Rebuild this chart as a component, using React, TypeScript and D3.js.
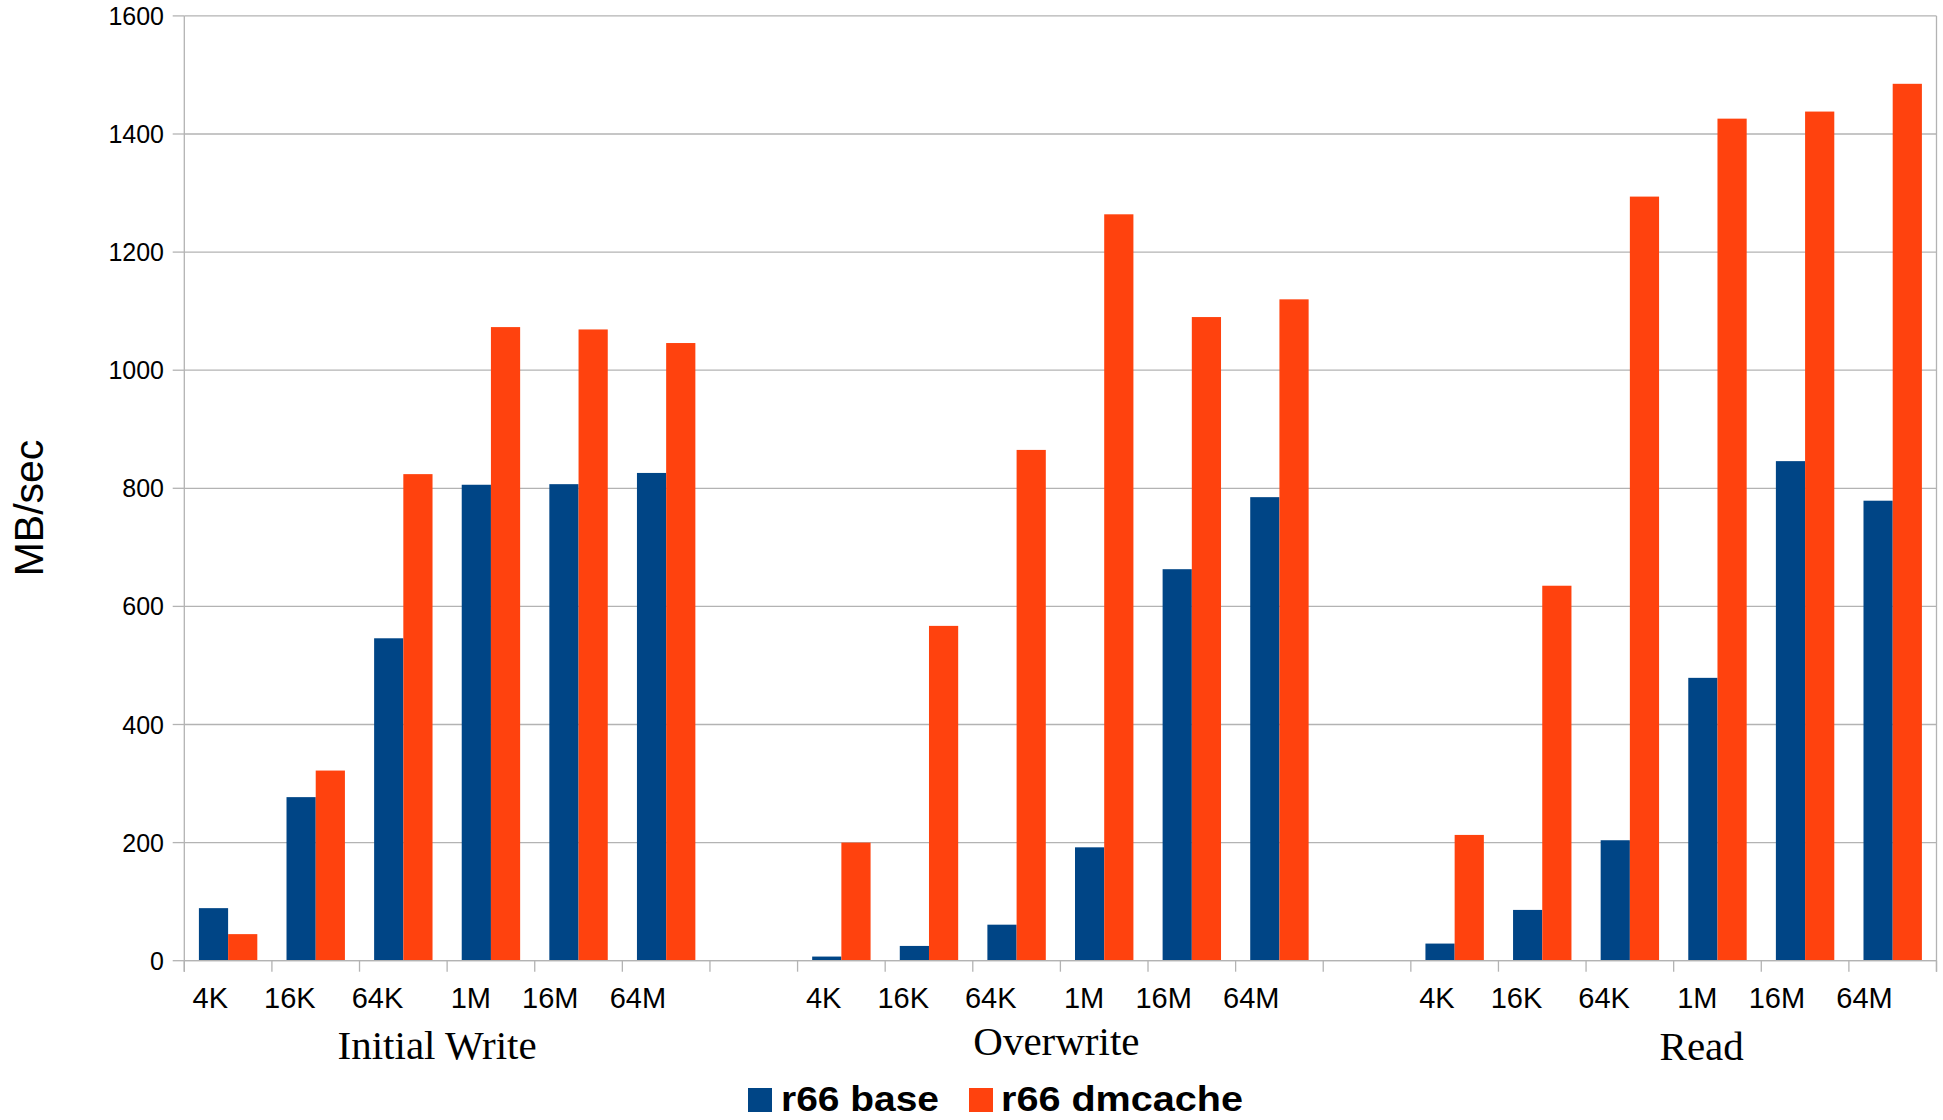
import React from "react";
import * as d3 from "d3";

// Block / request sizes shown inside each operation group
const sizes = ["4K", "16K", "64K", "1M", "16M", "64M"];
const operations = ["Initial Write", "Overwrite", "Read"];
const seriesNames = ["r66 base", "r66 dmcache"];
const yTicks = [0, 200, 400, 600, 800, 1000, 1200, 1400, 1600];

// Throughput in MB/sec, per operation, for each series
const baseInitialWrite = [89, 277, 546, 806, 807, 826];
const baseOverwrite = [7, 25, 61, 192, 663, 785];
const baseRead = [29, 86, 204, 479, 846, 779];
const dmcacheInitialWrite = [45, 322, 824, 1073, 1069, 1046];
const dmcacheOverwrite = [200, 567, 865, 1264, 1090, 1120];
const dmcacheRead = [213, 635, 1294, 1426, 1438, 1485];

const baseSeries = [baseInitialWrite, baseOverwrite, baseRead];
const dmcacheSeries = [dmcacheInitialWrite, dmcacheOverwrite, dmcacheRead];

const COLORS = ["#004586", "#ff420e"];
const GRID = "#b3b3b3";
const SANS = "'Liberation Sans', Arial, sans-serif";
const SERIF = "'Liberation Serif', 'Times New Roman', serif";

// Layout
const W = 1943;
const H = 1120;
const PLOT_LEFT = 184.3;
const PLOT_RIGHT = 1936.5;
const PLOT_TOP = 15.9;
const PLOT_BOTTOM = 960.7;
const SLOTS_PER_GROUP = sizes.length + 1; // one empty slot separates the groups
const SLOT_COUNT = operations.length * SLOTS_PER_GROUP - 1;

// Fine placement of the operation captions under each group
const groupCaptionShift = [
  { dx: -10, y: 1058.5 },
  { dx: -4, y: 1055 },
  { dx: 28, y: 1059.5 },
];

export default function App() {
  const x = d3
    .scaleBand<number>()
    .domain(d3.range(SLOT_COUNT))
    .range([PLOT_LEFT, PLOT_RIGHT])
    .padding(0);
  const bw = x.bandwidth();

  const sub = d3
    .scaleBand<number>()
    .domain([0, 1])
    .range([0, bw])
    .paddingInner(0)
    .paddingOuter(0.5);

  const y = d3.scaleLinear().domain([0, 1600]).range([PLOT_BOTTOM, PLOT_TOP]);

  const bars: { key: string; x: number; y: number; w: number; h: number; fill: string }[] = [];
  operations.forEach((_, g) => {
    sizes.forEach((_, c) => {
      const slot = g * SLOTS_PER_GROUP + c;
      [baseSeries, dmcacheSeries].forEach((series, s) => {
        const v = series[g][c];
        bars.push({
          key: `${g}-${c}-${s}`,
          x: (x(slot) as number) + (sub(s) as number),
          y: y(v),
          w: sub.bandwidth(),
          h: y(0) - y(v),
          fill: COLORS[s],
        });
      });
    });
  });

  const boundaries = d3.range(SLOT_COUNT + 1).map((i) => PLOT_LEFT + i * bw);

  return (
    <svg
      width={W}
      height={H}
      viewBox={`0 0 ${W} ${H}`}
      style={{ position: "absolute", left: 0, top: 0, display: "block", background: "#fff" }}
    >
      <rect x={0} y={0} width={W} height={H} fill="#fff" />

      {/* horizontal grid and y ticks */}
      {yTicks.map((t) => (
        <g key={`g${t}`}>
          <line x1={PLOT_LEFT} x2={PLOT_RIGHT} y1={y(t)} y2={y(t)} stroke={GRID} strokeWidth={1.3} />
          <line x1={PLOT_LEFT - 11.6} x2={PLOT_LEFT} y1={y(t)} y2={y(t)} stroke={GRID} strokeWidth={1.3} />
          <text
            x={164}
            y={y(t)}
            dy="0.36em"
            textAnchor="end"
            fontFamily={SANS}
            fontSize={25}
            fill="#000"
          >
            {t}
          </text>
        </g>
      ))}

      {/* plot frame: left axis and right edge */}
      <line x1={PLOT_LEFT} x2={PLOT_LEFT} y1={PLOT_TOP} y2={PLOT_BOTTOM + 11} stroke={GRID} strokeWidth={1.3} />
      <line x1={PLOT_RIGHT} x2={PLOT_RIGHT} y1={PLOT_TOP} y2={PLOT_BOTTOM + 11} stroke={GRID} strokeWidth={1.3} />

      {/* bars */}
      {bars.map((b) => (
        <rect key={b.key} x={b.x} y={b.y} width={b.w} height={b.h} fill={b.fill} />
      ))}

      {/* x axis line and category ticks */}
      <line x1={PLOT_LEFT} x2={PLOT_RIGHT} y1={y(0)} y2={y(0)} stroke={GRID} strokeWidth={1.3} />
      {boundaries.map((bx, i) => (
        <line key={`xt${i}`} x1={bx} x2={bx} y1={y(0)} y2={y(0) + 11} stroke={GRID} strokeWidth={1.3} />
      ))}

      {/* size labels */}
      {operations.map((_, g) =>
        sizes.map((s, c) => {
          const slot = g * SLOTS_PER_GROUP + c;
          return (
            <text
              key={`xl${g}-${c}`}
              x={(x(slot) as number) + bw / 2}
              y={1008}
              textAnchor="end"
              fontFamily={SANS}
              fontSize={29}
              fill="#000"
            >
              {s}
            </text>
          );
        })
      )}

      {/* operation captions */}
      {operations.map((op, g) => {
        const first = x(g * SLOTS_PER_GROUP) as number;
        const last = (x(g * SLOTS_PER_GROUP + sizes.length - 1) as number) + bw;
        return (
          <text
            key={`op${g}`}
            x={(first + last) / 2 + groupCaptionShift[g].dx}
            y={groupCaptionShift[g].y}
            textAnchor="middle"
            fontFamily={SERIF}
            fontSize={41}
            fill="#000"
          >
            {op}
          </text>
        );
      })}

      {/* y axis title */}
      <text
        transform="translate(43,508) rotate(-90)"
        textAnchor="middle"
        fontFamily={SANS}
        fontSize={41}
        fill="#000"
      >
        MB/sec
      </text>

      {/* legend */}
      <g>
        <rect x={748} y={1088} width={24} height={24} fill={COLORS[0]} />
        <text
          x={781}
          y={1111}
          fontFamily={SANS}
          fontWeight="bold"
          fontSize={35}
          textLength={158}
          lengthAdjust="spacingAndGlyphs"
          fill="#000"
        >
          {seriesNames[0]}
        </text>
        <rect x={969} y={1088} width={24} height={24} fill={COLORS[1]} />
        <text
          x={1001}
          y={1111}
          fontFamily={SANS}
          fontWeight="bold"
          fontSize={35}
          textLength={242}
          lengthAdjust="spacingAndGlyphs"
          fill="#000"
        >
          {seriesNames[1]}
        </text>
      </g>
    </svg>
  );
}
